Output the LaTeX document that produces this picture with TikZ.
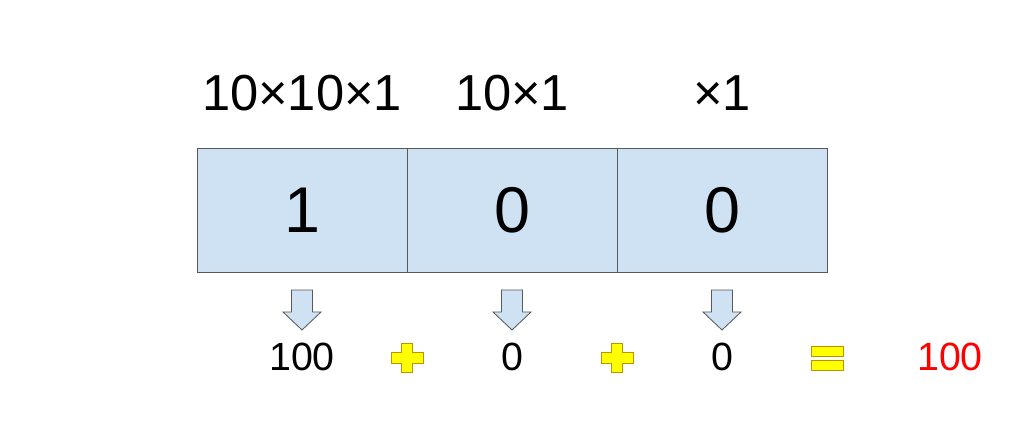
\documentclass[tikz,border=0pt]{standalone}
\usepackage{fontspec}
\setmainfont{Liberation Sans}
\definecolor{CellBlue}{RGB}{207, 226, 243}
\definecolor{EdgeGrey}{RGB}{89, 89, 89}
\definecolor{SignYellow}{RGB}{255, 255, 0}
\definecolor{SignEdge}{RGB}{191, 144, 0}
\usetikzlibrary{positioning, calc}
\tikzset{
    blockarrow/.pic={
        \draw[EdgeGrey, fill=CellBlue, line width=0.6pt] (-0.2625,0) -- (0.2625,0) -- (0.2625,-0.55) -- (0.475,-0.55) -- (0,-1) -- (-0.475,-0.55) -- (-0.2625,-0.55) -- cycle;
    },
    plussign/.pic={
        \draw[SignEdge, fill=SignYellow, line width=0.6pt] (-0.1375,0.3625) -- (0.1375,0.3625) -- (0.1375,0.1375) -- (0.4,0.1375) -- (0.4,-0.1375) -- (0.1375,-0.1375) -- (0.1375,-0.3625) -- (-0.1375,-0.3625) -- (-0.1375,-0.1375) -- (-0.4,-0.1375) -- (-0.4,0.1375) -- (-0.1375,0.1375) -- cycle;
    },
    equalsign/.pic={
        \draw[SignEdge, fill=SignYellow, line width=0.6pt] (-0.4,0.05) rectangle (0.4,0.3);
        \draw[SignEdge, fill=SignYellow, line width=0.6pt] (-0.4,-0.3) rectangle (0.4,-0.05);
    }
}

\begin{document}
\begin{tikzpicture}[
    cell/.style={draw=EdgeGrey, fill=CellBlue, line width=0.7pt, outer sep=0pt, inner sep=0pt,
        minimum width=5.25cm, minimum height=3.075cm, font=\fontsize{46}{50}\selectfont},
    factor/.style={inner sep=0pt, font=\fontsize{36}{40}\selectfont},
    term/.style={inner sep=0pt, font=\fontsize{28}{32}\selectfont}
]
    \useasboundingbox (0,0) rectangle (25.6,10.575);

    % digit cells
    \node[cell] (hundreds) at (7.55,5.3125) {1};
    \node[cell, right=0pt of hundreds] (tens) {0};
    \node[cell, right=0pt of tens] (ones) {0};

    % place values
    \node[factor] (f100) at (hundreds |- 0,8.25) {10×10×1};
    \node[factor] (f10) at (tens |- 0,8.25) {10×1};
    \node[factor] (f1) at (ones |- 0,8.25) {×1};

    % arrows down
    \pic at ($(hundreds.south)+(0,-0.45)$) {blockarrow};
    \pic at ($(tens.south)+(0,-0.45)$) {blockarrow};
    \pic at ($(ones.south)+(0,-0.45)$) {blockarrow};

    % sum
    \node[term] (t100) at (hundreds |- 0,1.65) {100};
    \node[term] (t10) at (tens |- 0,1.65) {0};
    \node[term] (t1) at (ones |- 0,1.65) {0};
    \pic at (hundreds.east |- 0,1.625) {plussign};
    \pic at (tens.east |- 0,1.625) {plussign};
    \pic at (ones.east |- 0,1.625) {equalsign};
    \node[term, text=red] (total) at (23.75,1.65) {100};
\end{tikzpicture}
\end{document}
